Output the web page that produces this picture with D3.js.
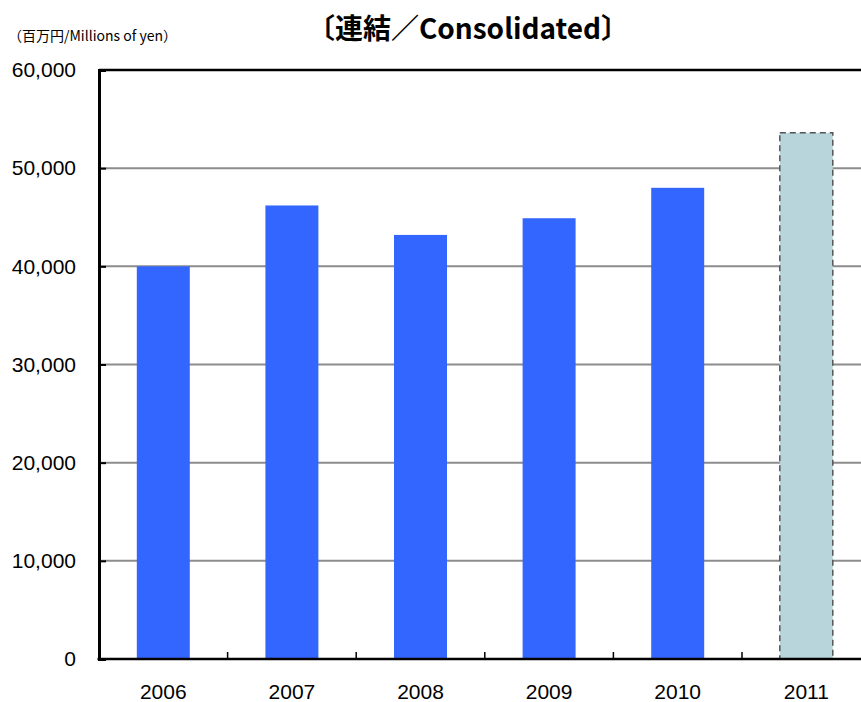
<!DOCTYPE html>
<html>
<head>
<meta charset="utf-8">
<script src="https://cdn.jsdelivr.net/npm/d3@7"></script>
<style>
  body { margin: 0; background: #fff; }
  text { font-family: "Noto Sans CJK JP", "Liberation Sans", sans-serif; fill: #000; }
</style>
</head>
<body>
<div id="chart"></div>
<script>
// data
var years = ["2006", "2007", "2008", "2009", "2010", "2011"];
var values = [40000, 46200, 43200, 44900, 48000, 53600];
var forecast = [false, false, false, false, false, true];
var yTicks = [0, 10000, 20000, 30000, 40000, 50000, 60000];

var width = 861, height = 702;
var plotLeft = 99, plotTop = 70, plotBottom = 659, plotRight = 870.6;

var svg = d3.select("#chart").append("svg")
    .attr("width", width)
    .attr("height", height);

var x = d3.scaleBand().domain(years).range([plotLeft, plotRight])
    .paddingInner(0.588).paddingOuter(0.294);
var y = d3.scaleLinear().domain([0, 60000]).range([plotBottom, plotTop]);

// gridlines
svg.append("g").selectAll("line")
    .data(yTicks.filter(function (d) { return d > 0 && d < 60000; }))
    .enter().append("line")
    .attr("x1", plotLeft).attr("x2", width)
    .attr("y1", function (d) { return y(d); })
    .attr("y2", function (d) { return y(d); })
    .attr("stroke", "#8c8c8c").attr("stroke-width", 2);

// top frame line
svg.append("line")
    .attr("x1", plotLeft).attr("x2", width)
    .attr("y1", y(60000)).attr("y2", y(60000))
    .attr("stroke", "#000").attr("stroke-width", 2.5);

// bars
svg.append("g").selectAll("rect")
    .data(years)
    .enter().append("rect")
    .attr("x", function (d) { return x(d); })
    .attr("y", function (d, i) { return y(values[i]); })
    .attr("width", x.bandwidth())
    .attr("height", function (d, i) { return plotBottom - y(values[i]); })
    .attr("fill", function (d, i) { return forecast[i] ? "#b8d5db" : "#3366ff"; })
    .attr("stroke", function (d, i) { return forecast[i] ? "#555" : "none"; })
    .attr("stroke-width", 1.5)
    .attr("stroke-dasharray", function (d, i) { return forecast[i] ? "6,4" : null; });

// y axis
var yAxis = d3.axisLeft(y).tickValues(yTicks).tickSize(-7).tickPadding(23)
    .tickFormat(d3.format(","));
var gy = svg.append("g").attr("transform", "translate(" + plotLeft + ",0)").call(yAxis);
gy.select(".domain").attr("stroke", "#000").attr("stroke-width", 3);
gy.selectAll(".tick line").attr("stroke", "#000").attr("stroke-width", 2);
gy.selectAll(".tick text").attr("font-size", 21).attr("fill", "#000")
    .style("font-family", "'Liberation Sans', sans-serif");

// x axis
var boundaries = years.slice(1).map(function (d) { return x(d) - x.step() * x.paddingInner() / 2; });
svg.append("g").selectAll("line")
    .data(boundaries)
    .enter().append("line")
    .attr("x1", function (d) { return d; }).attr("x2", function (d) { return d; })
    .attr("y1", plotBottom).attr("y2", plotBottom - 7)
    .attr("stroke", "#000").attr("stroke-width", 1.5);
svg.append("line")
    .attr("x1", plotLeft - 1.5).attr("x2", width)
    .attr("y1", plotBottom).attr("y2", plotBottom)
    .attr("stroke", "#000").attr("stroke-width", 2.5);
svg.append("g").selectAll("text")
    .data(years)
    .enter().append("text")
    .attr("x", function (d) { return x(d) + x.bandwidth() / 2; })
    .attr("y", 699)
    .attr("text-anchor", "middle")
    .attr("font-size", 21)
    .style("font-family", "'Liberation Sans', sans-serif")
    .text(function (d) { return d; });

// titles
svg.append("text")
    .attr("x", 468).attr("y", 39)
    .attr("text-anchor", "middle")
    .attr("font-size", 28).attr("font-weight", "bold")
    .text("〔連結／Consolidated〕");
svg.append("text")
    .attr("x", 8).attr("y", 41)
    .attr("font-size", 14)
    .text("（百万円/Millions of yen）");
</script>
</body>
</html>
